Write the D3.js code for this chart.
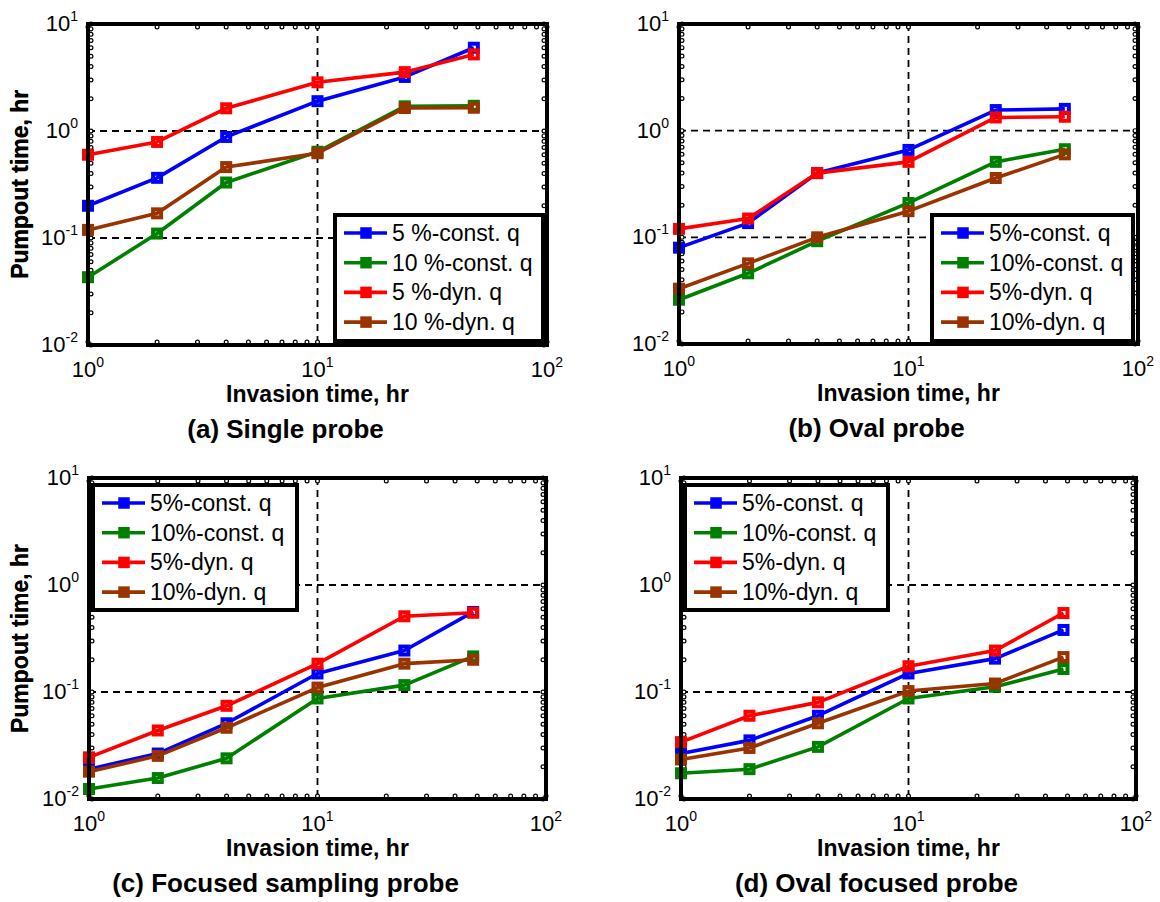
<!DOCTYPE html>
<html>
<head>
<meta charset="utf-8">
<script src="https://cdn.jsdelivr.net/npm/d3@7"></script>
<style>
  body { margin: 0; background: #fff; }
  svg { display: block; font-family: Arial, "Liberation Sans", sans-serif; }
</style>
</head>
<body>
<svg id="chart" width="1160" height="902"></svg>
<script>
// invasion times (hr), shared by every panel
const invasionTimes = [1, 2, 4, 10, 24, 48];

const seriesColors = ["#0000ff", "#008000", "#ff0000", "#993300"];

// pumpout times (hr), order: 5% const, 10% const, 5% dyn, 10% dyn
const singleProbe = [
  [0.20, 0.365, 0.88, 1.9, 3.2, 6.0],
  [0.043, 0.11, 0.33, 0.64, 1.7, 1.72],
  [0.60, 0.79, 1.63, 2.85, 3.55, 5.2],
  [0.119, 0.17, 0.46, 0.62, 1.64, 1.65]
];
const ovalProbe = [
  [0.080, 0.136, 0.40, 0.66, 1.56, 1.6],
  [0.026, 0.046, 0.092, 0.21, 0.51, 0.67],
  [0.12, 0.15, 0.40, 0.51, 1.33, 1.35],
  [0.033, 0.057, 0.10, 0.176, 0.36, 0.60]
];
const focusedProbe = [
  [0.019, 0.0266, 0.051, 0.149, 0.244, 0.56],
  [0.0124, 0.0157, 0.024, 0.087, 0.116, 0.215],
  [0.0245, 0.0437, 0.0743, 0.184, 0.51, 0.55],
  [0.018, 0.0253, 0.0463, 0.11, 0.184, 0.20]
];
const ovalFocusedProbe = [
  [0.0266, 0.0353, 0.060, 0.149, 0.205, 0.38],
  [0.0174, 0.019, 0.0307, 0.087, 0.112, 0.164],
  [0.034, 0.060, 0.080, 0.174, 0.244, 0.547],
  [0.0234, 0.030, 0.051, 0.102, 0.12, 0.212]
];

const legendSpaced = ["5 %-const. q", "10 %-const. q", "5 %-dyn. q", "10 %-dyn. q"];
const legendPlain = ["5%-const. q", "10%-const. q", "5%-dyn. q", "10%-dyn. q"];

const xTickExps = [0, 1, 2];
const yTickExps = [-2, -1, 0, 1];

const panels = [
  { title: "(a) Single probe", data: singleProbe, legend: legendSpaced,
    left: 88, top: 24, width: 459, height: 321,
    box: { x: 335, y: 215, w: 208, h: 126 } },
  { title: "(b) Oval probe", data: ovalProbe, legend: legendPlain,
    left: 679, top: 24, width: 459, height: 320,
    box: { x: 932, y: 215, w: 201, h: 126 } },
  { title: "(c) Focused sampling probe", data: focusedProbe, legend: legendPlain,
    left: 89, top: 478, width: 457, height: 321,
    box: { x: 93, y: 485, w: 204, h: 125 } },
  { title: "(d) Oval focused probe", data: ovalFocusedProbe, legend: legendPlain,
    left: 681, top: 478, width: 455, height: 321,
    box: { x: 685, y: 485, w: 203, h: 125 } }
];

const svg = d3.select("#chart");

function drawPanel(p) {
  const g = svg.append("g").attr("transform", `translate(${p.left},${p.top})`);
  const x = d3.scaleLog().domain([1, 100]).range([0, p.width]);
  const y = d3.scaleLog().domain([0.01, 10]).range([p.height, 0]);

  // dashed grid at the inner decades
  g.selectAll(".gx").data([10]).join("line")
    .attr("x1", d => x(d)).attr("x2", d => x(d))
    .attr("y1", 0).attr("y2", p.height)
    .attr("stroke", "#000").attr("stroke-width", 1.8).attr("stroke-dasharray", "7,5");
  g.selectAll(".gy").data([0.1, 1]).join("line")
    .attr("x1", 0).attr("x2", p.width)
    .attr("y1", d => y(d)).attr("y2", d => y(d))
    .attr("stroke", "#000").attr("stroke-width", 1.8).attr("stroke-dasharray", "7,5");

  // tick marks (they look like tiny rings in the original)
  const xt = [];
  for (let e = 0; e < 2; e++) for (let m = 1; m <= 9; m++) xt.push(m * Math.pow(10, e));
  xt.push(100);
  const yt = [];
  for (let e = -2; e < 1; e++) for (let m = 1; m <= 9; m++) yt.push(m * Math.pow(10, e));
  yt.push(10);
  const ticks = g.append("g");
  xt.forEach(v => {
    [p.height - 3, 3].forEach(cy => ticks.append("circle")
      .attr("cx", x(v)).attr("cy", cy).attr("r", 1.9)
      .attr("fill", "#fff").attr("stroke", "#000").attr("stroke-width", 1.2));
  });
  yt.forEach(v => {
    [3, p.width - 3].forEach(cx => ticks.append("circle")
      .attr("cx", cx).attr("cy", y(v)).attr("r", 1.9)
      .attr("fill", "#fff").attr("stroke", "#000").attr("stroke-width", 1.2));
  });

  // series
  const line = d3.line().x((d, i) => x(invasionTimes[i])).y(d => y(d));
  p.data.forEach((vals, si) => {
    g.append("path").datum(vals)
      .attr("d", line).attr("fill", "none")
      .attr("stroke", seriesColors[si]).attr("stroke-width", 3.6)
      .attr("stroke-linejoin", "round");
    g.selectAll(null).data(vals).join("rect")
      .attr("x", (d, i) => x(invasionTimes[i]) - 4)
      .attr("y", d => y(d) - 4)
      .attr("width", 8).attr("height", 8)
      .attr("fill", "none").attr("stroke", seriesColors[si]).attr("stroke-width", 4);
  });

  // frame
  g.append("rect").attr("width", p.width).attr("height", p.height)
    .attr("fill", "none").attr("stroke", "#000").attr("stroke-width", 4);

  // tick labels 10^n
  xTickExps.forEach(e => {
    const t = g.append("text")
      .attr("x", x(Math.pow(10, e))).attr("y", p.height + 32)
      .attr("text-anchor", "middle").attr("font-size", 22);
    t.append("tspan").text("10");
    t.append("tspan").attr("dy", -10).attr("font-size", 14).text(e);
  });
  yTickExps.forEach(e => {
    const t = g.append("text")
      .attr("x", -10).attr("y", y(Math.pow(10, e)) + 7)
      .attr("text-anchor", "end").attr("font-size", 22);
    t.append("tspan").text("10");
    t.append("tspan").attr("dy", -10).attr("font-size", 14).text(e);
  });

  // axis labels and title
  g.append("text")
    .attr("x", p.width / 2).attr("y", p.height + 57)
    .attr("text-anchor", "middle").attr("font-size", 23).attr("font-weight", "bold")
    .text("Invasion time, hr");
  g.append("text")
    .attr("transform", `translate(${-p.left + 28},${p.height / 2}) rotate(-90)`)
    .attr("text-anchor", "middle").attr("font-size", 23).attr("font-weight", "bold")
    .text("Pumpout time, hr");
  g.append("text")
    .attr("x", p.width / 2 - 32).attr("y", p.height + 93)
    .attr("text-anchor", "middle").attr("font-size", 26).attr("font-weight", "bold")
    .text(p.title);

  // legend
  const b = p.box;
  const lg = svg.append("g").attr("transform", `translate(${b.x},${b.y})`);
  lg.append("rect").attr("width", b.w).attr("height", b.h)
    .attr("fill", "#fff").attr("stroke", "#000").attr("stroke-width", 4);
  p.legend.forEach((name, i) => {
    const ly = 18 + i * 29.7;
    lg.append("line").attr("x1", 9).attr("x2", 52).attr("y1", ly).attr("y2", ly)
      .attr("stroke", seriesColors[i]).attr("stroke-width", 3.6);
    lg.append("rect").attr("x", 26).attr("y", ly - 5).attr("width", 10).attr("height", 10)
      .attr("fill", seriesColors[i]).attr("stroke", seriesColors[i]).attr("stroke-width", 1.5);
    lg.append("text").attr("x", 57).attr("y", ly + 8)
      .attr("font-size", 23).text(name);
  });
}

panels.forEach(drawPanel);
</script>
</body>
</html>
